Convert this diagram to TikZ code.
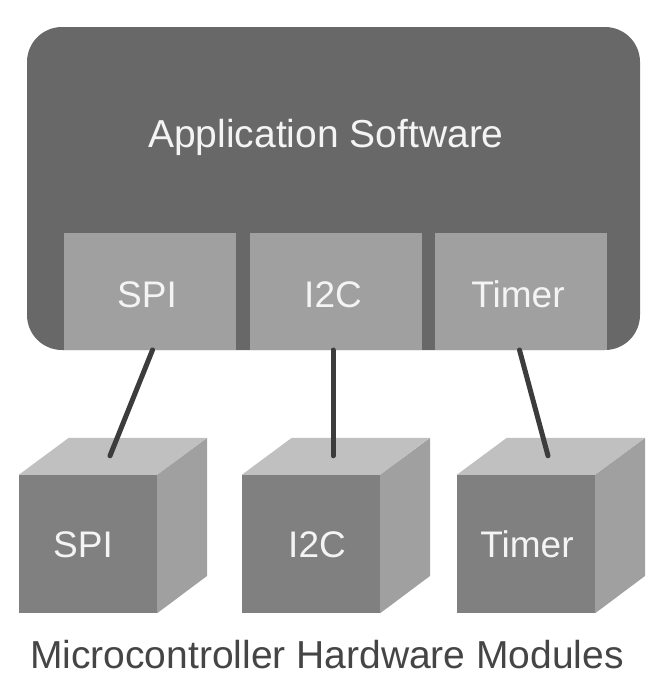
\documentclass[tikz,border=0pt]{standalone}
\usepackage{fontspec}
\setmainfont{Liberation Sans}
\definecolor{appbg}{HTML}{686868}
\definecolor{drvbg}{HTML}{A0A0A0}
\definecolor{cubefront}{HTML}{808080}
\definecolor{cubetop}{HTML}{C0C0C0}
\definecolor{cuberight}{HTML}{A0A0A0}
\definecolor{linkcol}{HTML}{3C3C3C}
\definecolor{lightlabel}{HTML}{F4F4F4}
\definecolor{captioncol}{HTML}{454545}
\newcommand{\labfont}{\fontsize{37}{42}\selectfont}
\newcommand{\bigfont}{\fontsize{39}{44}\selectfont}
\begin{document}
\begin{tikzpicture}[x=1pt,y=-1pt,
  appbox/.style={fill=appbg, rounded corners=35pt, minimum width=613pt, minimum height=323pt, inner sep=0pt},
  drvbox/.style={fill=drvbg, minimum width=172pt, minimum height=117pt, inner sep=0pt},
  cubefr/.style={fill=cubefront, minimum width=138pt, minimum height=138pt, inner sep=0pt},
  lab/.style={text=lightlabel, font=\labfont, anchor=base, inner sep=0pt},
  caption/.style={text=captioncol, font=\bigfont, anchor=base, inner sep=0pt},
  link/.style={draw=linkcol, line width=5pt, line cap=round}
]
\useasboundingbox (0,0) rectangle (661,680);
% application software block
\node[appbox] (app) at (333.5,188.5) {};
\node[lab, font=\bigfont] (applab) at (326,147) {Application Software};
% driver boxes
\node[drvbox, anchor=south] (dspi) at (150,350) {};
\node[drvbox, anchor=south] (di2c) at (336,350) {};
\node[drvbox, anchor=south] (dtim) at (520.5,350) {};
\node[lab] (dspilab) at (147,307) {SPI};
\node[lab] (di2clab) at (333,307) {I2C};
\node[lab] (dtimlab) at (518,307) {Timer};
% cubes
\foreach \nm/\cx in {cspi/88, ci2c/311, ctim/526}{
  \node[cubefr] (\nm) at (\cx,544) {};
  \fill[cubetop] (\nm.north west) -- ++(50,-37) -- ++(138,0) -- (\nm.north east) -- cycle;
  \fill[cuberight] (\nm.north east) -- ++(50,-37) -- ++(0,138) -- (\nm.south east) -- cycle;
  \coordinate (\nm top) at ([xshift=22pt,yshift=19pt]\nm.north);
}
\node[lab] (cspilab) at (83,557) {SPI};
\node[lab] (ci2clab) at (317,557) {I2C};
\node[lab] (ctimlab) at (527,557) {Timer};
% links
\draw[link] ([xshift=2.5pt]dspi.south) -- (cspitop);
\draw[link] ([xshift=-3pt]di2c.south) -- (ci2ctop);
\draw[link] ([xshift=-1pt]dtim.south) -- (ctimtop);
% caption
\node[caption] (cap) at (327,668) {Microcontroller Hardware Modules};
\end{tikzpicture}
\end{document}
